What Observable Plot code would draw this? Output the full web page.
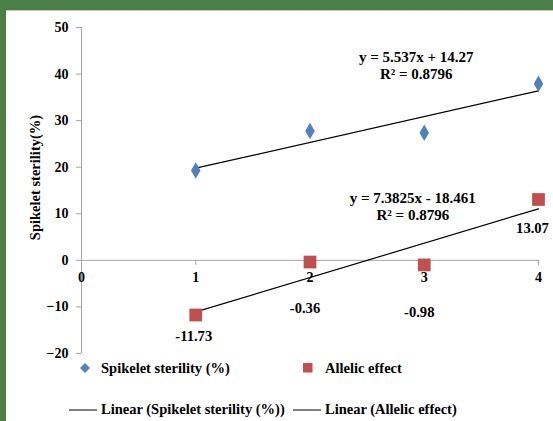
<!DOCTYPE html>
<html><head><meta charset="utf-8">
<script src="https://cdn.jsdelivr.net/npm/d3@7"></script>
<script src="https://cdn.jsdelivr.net/npm/@observablehq/plot@0.6"></script>
<style>
html,body{margin:0;padding:0;background:#fff;}
#frame{position:relative;width:553px;height:421px;background:#4b7f45;overflow:hidden;}
#panel{position:absolute;left:6px;top:10px;width:547px;height:411px;background:#fff;box-shadow:inset 0 1px 0 #c8c8c8;}
#chart{position:absolute;left:0;top:0;}
.lg{position:absolute;font-family:"Liberation Serif","Times New Roman",serif;font-weight:bold;font-size:14.5px;color:#000;white-space:nowrap;line-height:16px;}
.lg svg{position:absolute;}
</style></head>
<body>
<div id="frame"><div id="panel"><div id="chart"></div><div id="legend"></div></div></div>
<script>
const xValues = [1, 2, 3, 4];
const sterility = [19.3, 27.8, 27.4, 37.9];
const allelic = [-11.73, -0.36, -0.98, 13.07];
const allelicLabels = ["-11.73", "-0.36", "-0.98", "13.07"];
const xTicks = [0, 1, 2, 3, 4];
const yTicks = [-20, -10, 0, 10, 20, 30, 40, 50];
const seriesNames = ["Spikelet sterility (%)", "Allelic effect"];
const trendNames = ["Linear (Spikelet sterility (%))", "Linear (Allelic effect)"];
const eq1 = "y = 5.537x + 14.27\nR² = 0.8796";
const eq2 = "y = 7.3825x - 18.461\nR² = 0.8796";
const yLabel = "Spikelet sterility(%)";

const blue = "#4f81bd", red = "#c0504d", gray = "#a6a6a6";
const font = "Liberation Serif, Times New Roman, serif";

const s1 = xValues.map((x, i) => ({x, y: sterility[i]}));
const s2 = xValues.map((x, i) => ({x, y: allelic[i], label: allelicLabels[i]}));
const labelOffsets = [[-2, 21], [-5, 46], [-5, 47], [-6, 29]];

const chart = Plot.plot({
  width: 547, height: 360,
  marginLeft: 75, marginRight: 15, marginTop: 17, marginBottom: 17,
  style: {fontFamily: font, fontWeight: "bold", fontSize: "14px", color: "#000", background: "transparent"},
  x: {domain: [0, 4], axis: null},
  y: {domain: [-20, 50], axis: null},
  marks: [
    Plot.ruleX([0], {y1: -20, y2: 50, stroke: gray, strokeWidth: 1}),
    Plot.axisY({ticks: yTicks, tickSize: 5, tickPadding: 8, stroke: gray, fill: "#000", fontWeight: "bold", fontSize: 14, label: null}),
    Plot.ruleY([0], {x1: 0, x2: 4, stroke: gray, strokeWidth: 1}),
    Plot.ruleX(xTicks.slice(1), {x: d => d, y1: 0, y2: 0, insetBottom: -5, stroke: gray}),
    Plot.text(xTicks, {x: d => d, y: 0, dy: 17, text: d => String(d), fill: "#000", fontWeight: "bold", fontSize: 14}),
    Plot.text([yLabel], {frameAnchor: "left", textAnchor: "middle", rotate: -90, dx: -46, dy: -13, fill: "#000", fontWeight: "bold", fontSize: 14.5}),
    Plot.linearRegressionY(s1, {x: "x", y: "y", ci: 0, stroke: "#000", strokeWidth: 1.2}),
    Plot.linearRegressionY(s2, {x: "x", y: "y", ci: 0, stroke: "#000", strokeWidth: 1.2}),
    Plot.dot(s1, {x: "x", y: "y", symbol: "diamond", r: 5, fill: blue, stroke: null}),
    Plot.dot(s2, {x: "x", y: "y", symbol: "square", r: 7.2, fill: red, stroke: null}),
    ...s2.map((d, i) => Plot.text([d], {x: "x", y: "y", text: "label", dx: labelOffsets[i][0], dy: labelOffsets[i][1], fill: "#000", fontWeight: "bold", fontSize: 14.6})),
    Plot.text([eq1], {x: [2.93], y: [42.0], lineHeight: 1.13, fill: "#000", fontWeight: "bold", fontSize: 15}),
    Plot.text([eq2], {x: [2.90], y: [11.7], lineHeight: 1.13, fill: "#000", fontWeight: "bold", fontSize: 15})
  ]
});
document.getElementById("chart").appendChild(chart);

// Legend (HTML)
const legend = document.getElementById("legend");
function item(left, top, svg, text) {
  const d = document.createElement("div");
  d.className = "lg";
  d.style.left = left + "px"; d.style.top = top + "px";
  d.innerHTML = svg + `<span style="position:absolute;left:0;top:0">${text}</span>`;
  legend.appendChild(d);
}
item(95, 350,
  `<svg width="12" height="12" style="left:-22px;top:2px"><path d="M6,1L11,6L6,11L1,6Z" fill="${blue}"/></svg>`, seriesNames[0]);
item(319, 350,
  `<svg width="10" height="10" style="left:-22px;top:3px"><rect x="0" y="0" width="9.5" height="9.5" fill="${red}"/></svg>`, seriesNames[1]);
item(95, 391,
  `<svg width="30" height="4" style="left:-32px;top:7px"><line x1="0" y1="2" x2="28" y2="2" stroke="#000" stroke-width="1"/></svg>`, trendNames[0]);
item(319, 391,
  `<svg width="30" height="4" style="left:-32px;top:7px"><line x1="0" y1="2" x2="28" y2="2" stroke="#000" stroke-width="1"/></svg>`, trendNames[1]);
</script>
</body></html>
